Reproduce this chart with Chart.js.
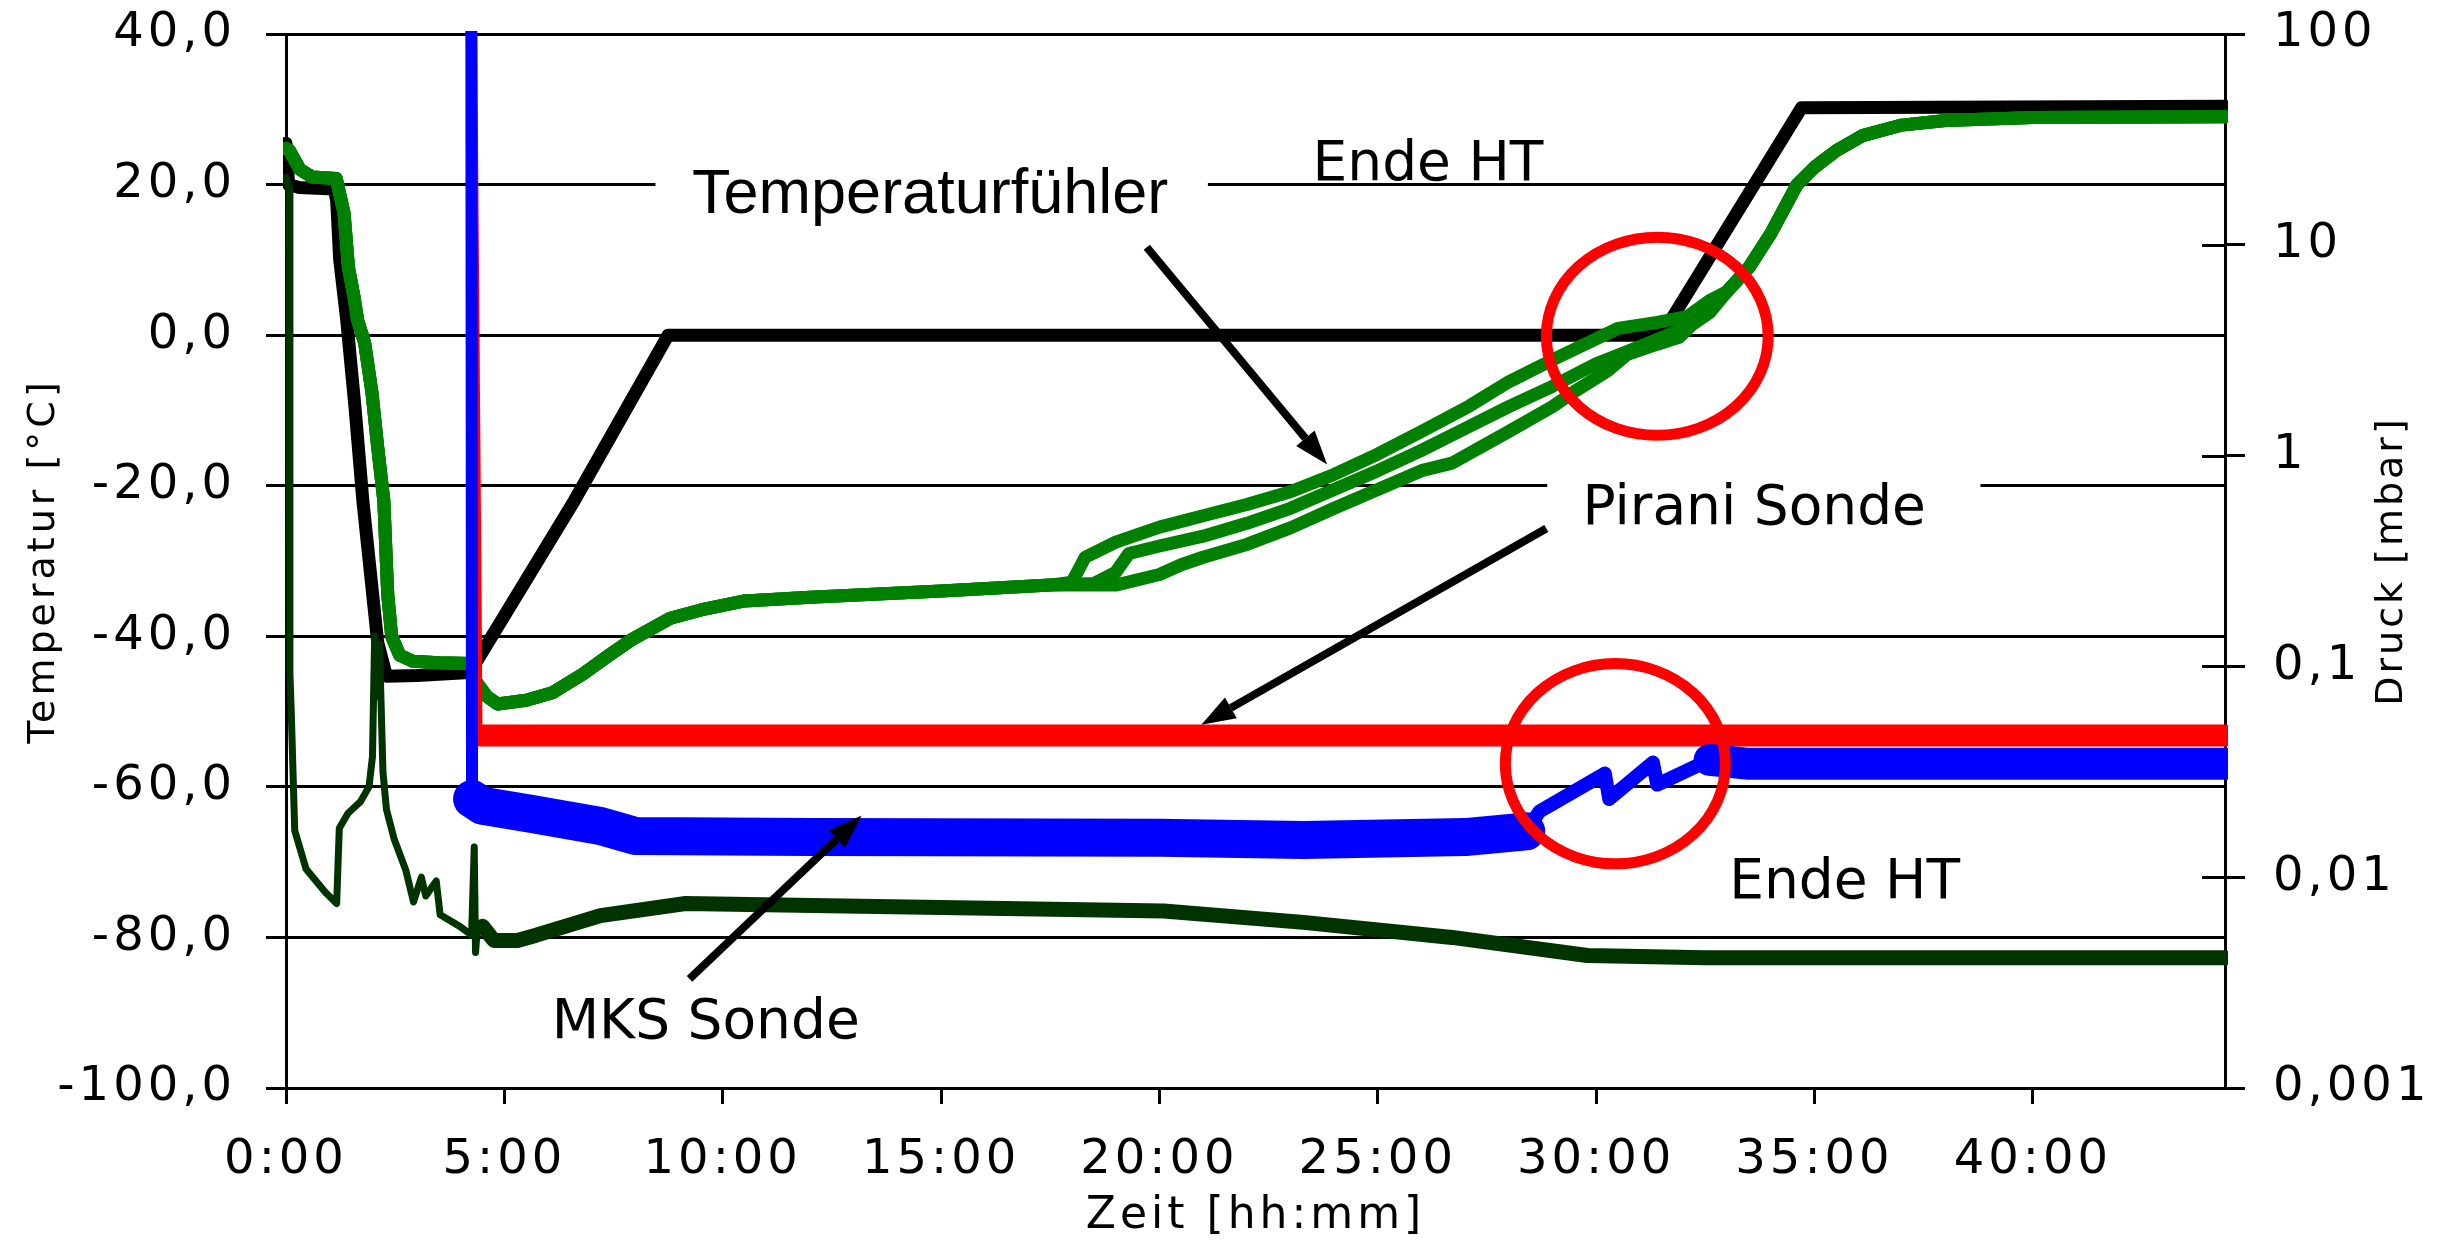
<!DOCTYPE html>
<html>
<head>
<meta charset="utf-8">
<script src="https://cdn.jsdelivr.net/npm/chart.js@4.4.1/dist/chart.umd.min.js"></script>
<style>
  body { margin: 0; background: #fff; }
  #wrap { position: relative; width: 2451px; height: 1240px; }
</style>
</head>
<body>
<div id="wrap"><canvas id="grafica"></canvas></div>
<script>
// Achsen
const xTicks = [0, 5, 10, 15, 20, 25, 30, 35, 40];
const xTickLabels = ['0:00', '5:00', '10:00', '15:00', '20:00', '25:00', '30:00', '35:00', '40:00'];
const tempTicks = [-100, -80, -60, -40, -20, 0, 20, 40];
const tempTickLabels = ['-100,0', '-80,0', '-60,0', '-40,0', '-20,0', '0,0', '20,0', '40,0'];
const pTicks = [0.001, 0.01, 0.1, 1, 10, 100];
const pTickLabels = ['0,001', '0,01', '0,1', '1', '10', '100'];

// Stellflaeche (schwarz) [h], [°C]
const shelfT = [0, 0.06, 0.3, 1.1, 1.16, 1.23, 1.39, 1.58, 1.76, 2.1, 2.3, 3.0, 4.2, 4.4, 6.6, 8.75, 31.5, 34.7, 44.4];
const shelfV = [25.5, 20, 19.6, 19.4, 17.9, 10, 2, -9.6, -22, -40.8, -45.3, -45.2, -44.8, -43, -22, 0, 0, 30.2, 30.4];

// Temperaturfuehler (gruen), gemeinsamer Anfang und Ende
const probeHeadT = [0, 0.08, 0.32, 0.6, 1.15, 1.33, 1.43, 1.56, 1.64, 1.8, 1.97, 2.1, 2.24, 2.33, 2.42, 2.6, 2.9, 3.5, 4.25, 4.35, 4.6, 4.85, 5.5, 6.1, 6.8, 7.4, 7.9, 8.8, 9.5, 10.5, 12, 15, 17.5];
const probeHeadV = [24.8, 24.5, 22, 21, 20.8, 16.2, 9, 5, 2, -1, -7.7, -14.9, -22, -34.5, -40, -42.5, -43.3, -43.5, -43.6, -46, -48, -49, -48.5, -47.5, -45, -42.5, -40.5, -37.6, -36.5, -35.3, -34.8, -34, -33.2];
const probeTailT = [33.0, 33.5, 34.0, 34.6, 35.0, 35.5, 36.1, 37, 38, 40, 44.4];
const probeTailV = [5.8, 9, 13.5, 20, 22.3, 24.5, 26.5, 27.9, 28.5, 28.9, 29.0];
const probe1T = [18.0, 18.3, 19, 20, 21, 22, 23, 24, 25, 26, 27.1, 28, 29.1, 30.5, 31.4, 32.1, 32.6];
const probe1V = [-32.8, -29.5, -27.5, -25.5, -24, -22.5, -20.8, -18.5, -15.8, -12.8, -9.4, -6.2, -3, 0.9, 1.7, 2.5, 4.6];
const probe2T = [18.5, 19, 19.3, 20, 21, 22, 23, 24, 25, 26, 27, 28, 29, 30, 31, 31.9, 32.6];
const probe2V = [-33, -31.5, -29, -28, -26.7, -25, -23, -20.5, -18, -15.3, -12.4, -9.5, -6.8, -3.8, -1.5, 0.6, 3.5];
const probe3T = [19.0, 20, 20.5, 21, 22, 23, 24, 25, 26, 26.7, 28, 29, 29.5, 30.25, 30.7, 31.4, 31.9, 32.2, 32.6];
const probe3V = [-33.2, -31.8, -30.5, -29.5, -27.8, -25.6, -23, -20.5, -18, -17, -12.8, -9.5, -7.5, -4.8, -2.6, -1.2, -0.3, 1.4, 3];

// Kondensator (dunkelgruen)
const condT = [0, 0.07, 0.09, 0.12, 0.2, 0.46, 0.9, 1.16, 1.22, 1.42, 1.7, 1.9, 1.98, 2.03, 2.08, 2.14, 2.22, 2.3, 2.48, 2.74, 2.92, 3.1, 3.2, 3.44, 3.53, 3.97, 4.25, 4.31, 4.34, 4.38, 4.5, 4.76, 5.3, 5.73, 7.2, 9.15, 20.1, 23.3, 26.7, 29.8, 32.5, 44.4];
const condV = [21, 19.5, -45, -50, -65.8, -70.9, -74, -75.5, -65.5, -63.5, -62, -60, -56, -40, -48, -41, -58, -63, -67, -71, -75.3, -72, -74.5, -72.5, -77, -78.5, -79.7, -68, -82, -79, -78.5, -80.4, -80.4, -79.7, -77.1, -75.5, -76.5, -78, -80, -82.4, -82.7, -82.7];

// Druck [mbar]
const mksT = [4.24, 4.26, 4.5, 5.6, 7.2, 8.0, 12.0, 20.0, 23.3, 27.0, 28.4, 28.7, 30.2, 30.3, 31.3, 31.4, 32.6, 33.5, 44.4];
const mksP = [1000, 0.0235, 0.0218, 0.0200, 0.0175, 0.0157, 0.0155, 0.0154, 0.0150, 0.0155, 0.0165, 0.0205, 0.0310, 0.0235, 0.0350, 0.0275, 0.0360, 0.0345, 0.0345];
const piraniT = [4.27, 4.41, 4.43, 44.4];
const piraniP = [1000, 0.22, 0.047, 0.047];

const pts = (t, v) => t.map((x, i) => ({ x: x, y: v[i] }));
const FONT = 'DejaVu Sans';

function lineSet(label, data, axis, color, width, order, seg) {
  const ds = {
    label, data, yAxisID: axis, borderColor: color, borderWidth: width, order,
    pointRadius: 0, tension: 0, fill: false, clip: 3,
    borderJoinStyle: 'round', borderCapStyle: 'round'
  };
  if (seg) ds.segment = { borderWidth: c => seg(c.p0.parsed.x) };
  return ds;
}

const datasets = [
  lineSet('MKS Sonde', pts(mksT, mksP), 'y2', '#0000ff', 12, 1,
    t => t < 4.25 ? 12 : t < 28.4 ? 38 : t < 32.6 ? 14 : 32),
  lineSet('Pirani Sonde', pts(piraniT, piraniP), 'y2', '#ff0000', 6, 2,
    t => t < 4.42 ? 6 : 22),
  lineSet('Kondensator', pts(condT, condV), 'y', '#003300', 7, 3,
    t => t < 4.5 ? 7 : 15),
  lineSet('Fühler 1', pts(probeHeadT.concat(probe1T, probeTailT), probeHeadV.concat(probe1V, probeTailV)), 'y', '#008000', 13, 4),
  lineSet('Fühler 2', pts(probeHeadT.concat(probe2T, probeTailT), probeHeadV.concat(probe2V, probeTailV)), 'y', '#008000', 13, 5),
  lineSet('Fühler 3', pts(probeHeadT.concat(probe3T, probeTailT), probeHeadV.concat(probe3V, probeTailV)), 'y', '#008000', 13, 6),
  lineSet('Stellfläche', pts(shelfT, shelfV), 'y', '#000000', 13, 7)
];

function arrow(ctx, x1, y1, x2, y2) {
  const a = Math.atan2(y2 - y1, x2 - x1);
  const hl = 34, hw = 12;
  const bx = x2 - hl * Math.cos(a), by = y2 - hl * Math.sin(a);
  ctx.beginPath(); ctx.moveTo(x1, y1); ctx.lineTo(bx, by); ctx.stroke();
  ctx.beginPath(); ctx.moveTo(x2, y2);
  ctx.lineTo(bx + hw * Math.sin(a), by - hw * Math.cos(a));
  ctx.lineTo(bx - hw * Math.sin(a), by + hw * Math.cos(a));
  ctx.closePath(); ctx.fill();
}

// feste Groesse der Achsenbereiche, ohne Zusatzabstand fuer Beschriftungen
const fitTo = (key, size) => s => {
  s[key] = size;
  s.paddingTop = 0; s.paddingBottom = 0; s.paddingLeft = 0; s.paddingRight = 0;
};

// Beschriftungen im Diagramm, Lage in Datenkoordinaten (h, °C)
const notizen = {
  id: 'notizen',
  beforeDraw(chart) { chart.ctx.letterSpacing = '4px'; },
  afterDatasetsDraw(chart) {
    const { ctx, scales: { x, y, y2 } } = chart;
    const px = t => x.getPixelForValue(t), py = v => y.getPixelForValue(v);
    ctx.save();
    ctx.letterSpacing = '0px';

    // innere Teilstriche rechte Achse
    ctx.strokeStyle = '#000'; ctx.lineWidth = 3;
    pTicks.slice(1, -1).forEach(v => {
      const yy = Math.round(y2.getPixelForValue(v)) + 0.5;
      ctx.beginPath(); ctx.moveTo(y2.left - 23, yy); ctx.lineTo(y2.left, yy); ctx.stroke();
    });

    // Gitterlinie hinter Text ausblenden
    ctx.fillStyle = '#fff';
    ctx.fillRect(px(8.46), py(20) - 5, px(21.11) - px(8.46), 10);
    ctx.fillRect(px(28.88), py(-20) - 5, px(38.8) - px(28.88), 10);

    ctx.fillStyle = '#000';
    ctx.textAlign = 'center';
    ctx.textBaseline = 'alphabetic';
    ctx.font = '63px "Liberation Sans"';
    ctx.fillText('Temperaturfühler', px(14.75), py(16.2));
    ctx.font = '55px "' + FONT + '"';
    ctx.fillText('Ende HT', px(26.15), py(20.6));
    ctx.fillText('Pirani Sonde', px(33.62), py(-25.15));
    ctx.fillText('Ende HT', px(35.69), py(-74.75));
    ctx.fillText('MKS Sonde', px(9.61), py(-93.36));

    ctx.strokeStyle = '#000'; ctx.lineWidth = 8; ctx.lineCap = 'butt';
    arrow(ctx, px(19.71), py(11.68), px(23.84), py(-17.17));
    arrow(ctx, px(28.86), py(-25.68), px(20.96), py(-51.74));
    arrow(ctx, px(9.24), py(-85.5), px(13.18), py(-63.8));

    ctx.strokeStyle = '#ff0000'; ctx.lineWidth = 11;
    [[31.40, -0.15, 2.54, 13.16], [30.44, -56.93, 2.52, 13.3]].forEach(([t, v, rt, rv]) => {
      ctx.beginPath();
      ctx.ellipse(px(t), py(v), px(t + rt) - px(t), py(v) - py(v + rv), 0, 0, 2 * Math.PI);
      ctx.stroke();
    });
    ctx.restore();
  },
  afterDraw(chart) {
    const { ctx, scales: { y2 }, chartArea } = chart;
    ctx.save();
    ctx.letterSpacing = '3px';
    ctx.fillStyle = '#000';
    ctx.font = '38px "' + FONT + '"';
    ctx.textAlign = 'center';
    ctx.textBaseline = 'middle';
    ctx.translate(y2.right - 59, (chartArea.top + chartArea.bottom) / 2);
    ctx.rotate(-Math.PI / 2);
    ctx.fillText('Druck [mbar]', 0, 0);
    ctx.restore();
  }
};

const tickFont = { family: FONT, size: 48 };

new Chart(document.getElementById('grafica').getContext('2d'), {
  type: 'line',
  data: { datasets },
  options: {
    responsive: true,
    maintainAspectRatio: false,
    animation: false,
    layout: { padding: { top: 34, left: 0, right: 0, bottom: 0 } },
    plugins: { legend: { display: false }, tooltip: { enabled: false } },
    scales: {
      x: {
        type: 'linear', min: 0, max: 44.4,
        afterBuildTicks: s => { s.ticks = xTicks.map(v => ({ value: v })); },
        afterFit: fitTo('height', 152),
        ticks: { callback: v => xTickLabels[xTicks.indexOf(v)], font: tickFont, color: '#000', padding: 28, maxRotation: 0, autoSkip: false },
        grid: { drawOnChartArea: false, tickLength: 16, lineWidth: 3, color: '#000' },
        border: { display: true, color: '#000', width: 3 },
        title: { display: true, text: 'Zeit [hh:mm]', font: { family: FONT, size: 44 }, color: '#000', padding: { top: 0, bottom: -3 } }
      },
      y: {
        position: 'left', min: -100, max: 40,
        afterBuildTicks: s => { s.ticks = tempTicks.map(v => ({ value: v })); },
        afterFit: fitTo('width', 286),
        ticks: { callback: v => tempTickLabels[tempTicks.indexOf(v)], font: tickFont, color: '#000', padding: 30 },
        grid: { tickLength: 20, lineWidth: 3, color: '#000' },
        border: { display: true, color: '#000', width: 3 },
        title: { display: true, text: 'Temperatur [°C]', font: { family: FONT, size: 38 }, color: '#000', padding: { top: 21, bottom: 0 } }
      },
      y2: {
        type: 'logarithmic', position: 'right', min: 0.001, max: 100,
        afterBuildTicks: s => { s.ticks = pTicks.map(v => ({ value: v })); },
        afterFit: fitTo('width', 226),
        ticks: { callback: v => pTickLabels[pTicks.indexOf(v)], font: tickFont, color: '#000', padding: 28 },
        grid: { drawOnChartArea: false, tickLength: 20, lineWidth: 3, color: '#000' },
        border: { display: true, color: '#000', width: 3 }
      }
    }
  },
  plugins: [notizen]
});
</script>
</body>
</html>
